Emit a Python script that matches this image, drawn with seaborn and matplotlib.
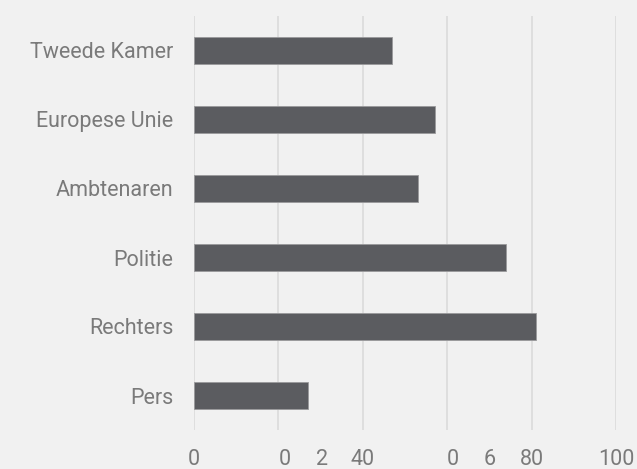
import matplotlib
matplotlib.use("Agg")
import matplotlib.pyplot as plt
import seaborn as sns

# data
categories = ["Tweede Kamer", "Europese Unie", "Ambtenaren", "Politie", "Rechters", "Pers"]
values = [47, 57, 53, 74, 81, 27]

grid_ticks = [0, 20, 40, 60, 80, 100]
grid_labels = ["0", "", "40", "", "80", "100"]
# the broken "20" and "60" labels as they show up in the reference
odd_ticks = [21.6, 30.3, 61.4, 70.1]
odd_labels = ["0", "2", "0", "6"]

bg = "#f1f1f1"
bar_color = "#5b5c60"
text_color = "#7a7a7a"

sns.set_style("white")
plt.rcParams["font.family"] = ["Roboto", "DejaVu Sans"]

fig = plt.figure(figsize=(6.37, 4.69), dpi=100, facecolor=bg)
ax = fig.add_axes([194 / 637, 39 / 469, 422 / 637, 414 / 469])
ax.set_facecolor(bg)

sns.barplot(x=values, y=categories, orient="h", color=bar_color, width=0.39,
            saturation=1, edgecolor="#9a9a9c", linewidth=0.6, ax=ax)

ax.set_xlim(0, 100)
ax.set_xticks(grid_ticks)
ax.set_xticklabels(grid_labels)
ax.set_xticks(odd_ticks, minor=True)
ax.set_xticklabels(odd_labels, minor=True)
ax.grid(axis="x", which="major", color="#dcdcdc", linewidth=1.3)
ax.set_axisbelow(True)

for s in ax.spines.values():
    s.set_visible(False)

ax.tick_params(axis="x", which="both", length=0, pad=14, labelsize=15.5, labelcolor=text_color)
ax.tick_params(axis="y", length=0, pad=15, labelsize=15.5, labelcolor=text_color)

ax.set_xlabel("")
ax.set_ylabel("")

fig.savefig("out.png", dpi=100, facecolor=bg)
